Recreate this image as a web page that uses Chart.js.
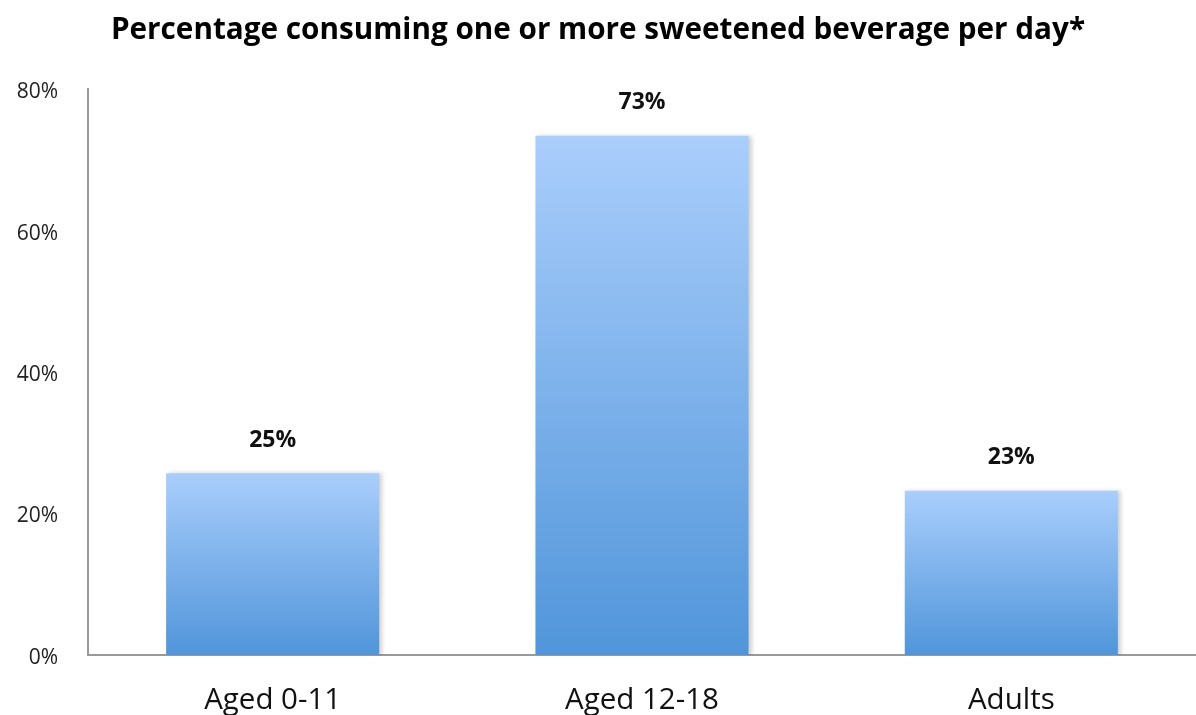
<!DOCTYPE html>
<html>
<head>
<meta charset="utf-8">
<script src="https://cdn.jsdelivr.net/npm/chart.js@4"></script>
<style>
  html, body { margin: 0; padding: 0; background: #fff; }
  #wrap { width: 1196px; height: 715px; }
</style>
</head>
<body>
<div id="wrap"><canvas id="chart" width="1196" height="715"></canvas></div>
<script>
const categories = ['Aged 0-11', 'Aged 12-18', 'Adults'];
const values = [25.7, 73.4, 23.2];
const valueLabels = ['25%', '73%', '23%'];
const yTicks = [0, 20, 40, 60, 80];

const fontFamily = '"Open Sans", "Liberation Sans", sans-serif';

// gradient per bar, light at the top and darker at the base
function barGradient(context) {
  const chart = context.chart;
  const y = chart.scales.y;
  if (!chart.chartArea || !y || context.dataIndex === undefined) return '#7fb2ec';
  const top = y.getPixelForValue(values[context.dataIndex]);
  const bottom = y.getPixelForValue(0);
  if (!isFinite(top) || !isFinite(bottom)) return '#7fb2ec';
  const g = chart.ctx.createLinearGradient(0, top, 0, bottom);
  g.addColorStop(0, '#aacefc');
  g.addColorStop(1, '#5095da');
  return g;
}

// soft shadow behind bars
const shadowPlugin = {
  id: 'barShadow',
  beforeDatasetsDraw(chart) {
    const ctx = chart.ctx;
    ctx.save();
    ctx.shadowColor = 'rgba(0,0,0,0.18)';
    ctx.shadowBlur = 4;
    ctx.shadowOffsetX = 3;
    ctx.shadowOffsetY = 0;
  },
  afterDatasetsDraw(chart) {
    chart.ctx.restore();
  }
};

// value labels above bars
const labelPlugin = {
  id: 'valueLabels',
  afterDatasetsDraw(chart) {
    const ctx = chart.ctx;
    const meta = chart.getDatasetMeta(0);
    ctx.save();
    ctx.font = 'bold 23px ' + fontFamily;
    ctx.fillStyle = '#111';
    ctx.textAlign = 'center';
    ctx.textBaseline = 'middle';
    meta.data.forEach((bar, i) => {
      ctx.fillText(valueLabels[i], bar.x, bar.y - 33);
    });
    ctx.restore();
  }
};

new Chart(document.getElementById('chart'), {
  type: 'bar',
  data: {
    labels: categories,
    datasets: [{
      data: values,
      backgroundColor: barGradient,
      borderWidth: 0,
      barPercentage: 0.577,
      categoryPercentage: 1
    }]
  },
  options: {
    responsive: false,
    animation: false,
    layout: { padding: { left: 0, right: 0, top: 0, bottom: 0 } },
    plugins: {
      legend: { display: false },
      tooltip: { enabled: false },
      title: {
        display: true,
        text: 'Percentage consuming one or more sweetened beverage per day*',
        color: '#000',
        font: { family: fontFamily, size: 29.7, weight: 'bold', lineHeight: 1.2 },
        padding: { top: 13, bottom: 40.4 }
      }
    },
    scales: {
      x: {
        grid: { display: false, drawTicks: false },
        border: { color: '#999', width: 2 },
        ticks: {
          color: '#111',
          font: { family: fontFamily, size: 29.5 },
          padding: 28
        },
        afterFit(scale) { scale.height = 60; }
      },
      y: {
        min: 0,
        max: 80,
        afterBuildTicks(scale) {
          scale.ticks = yTicks.map((v) => ({ value: v }));
        },
        grid: { display: false, drawTicks: false },
        border: { color: '#999', width: 2 },
        ticks: {
          color: '#222',
          font: { family: fontFamily, size: 21 },
          padding: 30,
          labelOffset: 3,
          callback: (v) => v + '%'
        },
        afterFit(scale) { scale.width = 88; }
      }
    }
  },
  plugins: [shadowPlugin, labelPlugin]
});
</script>
</body>
</html>
